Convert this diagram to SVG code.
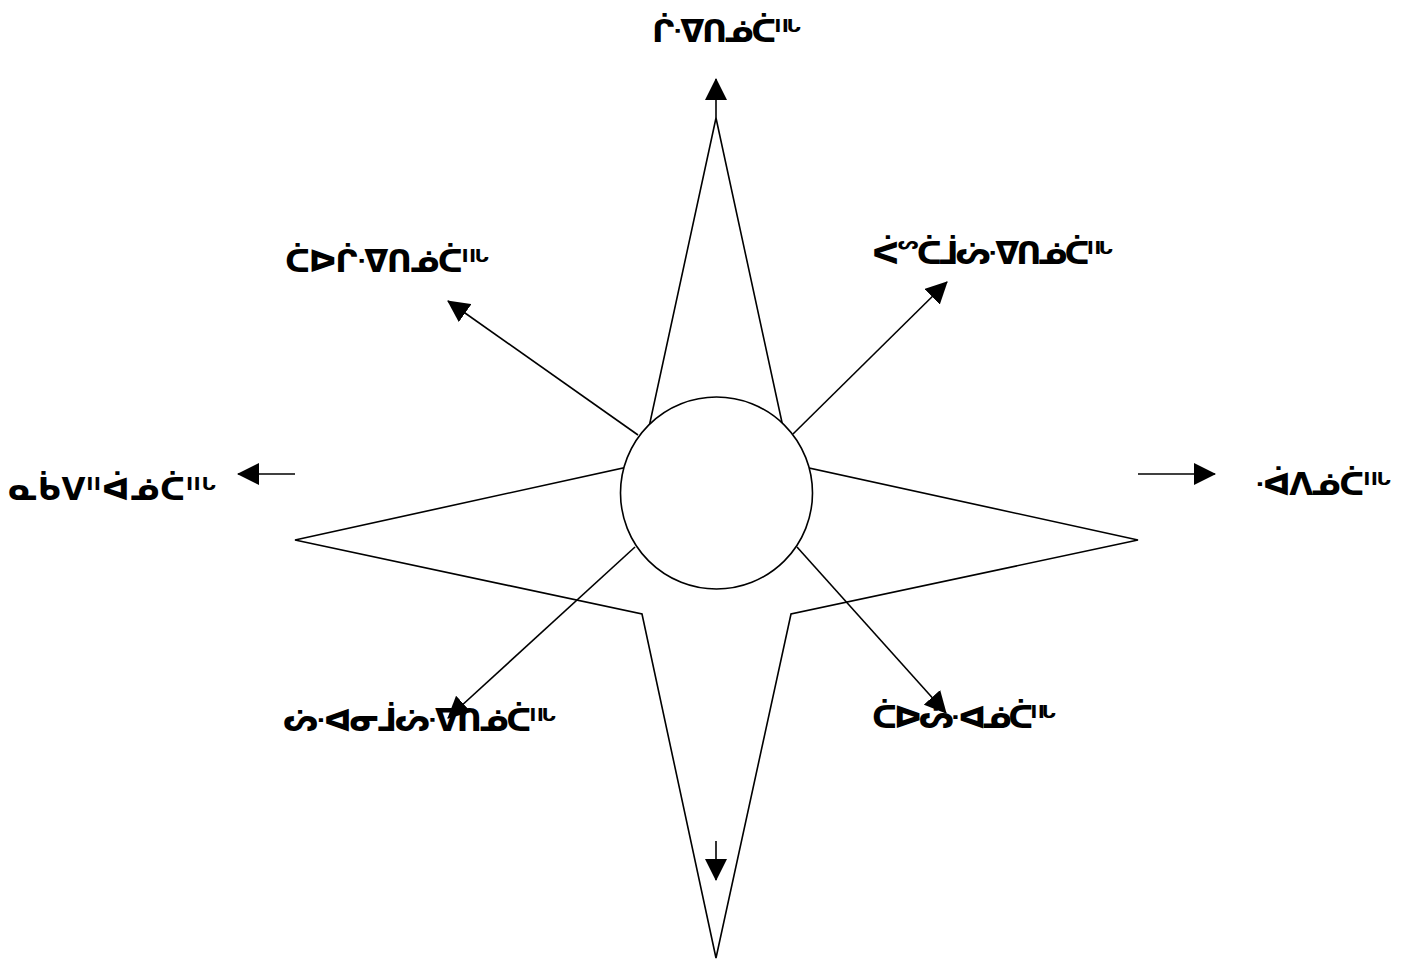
<svg xmlns="http://www.w3.org/2000/svg" width="1403" height="963" viewBox="0 0 1403 963">
<style>
.lbl{font-family:"DejaVu Sans","Noto Sans",sans-serif;font-weight:bold;font-size:31px;fill:#000}
.ln{stroke:#000;stroke-width:1.6;fill:none}
.ar{stroke:#000;stroke-width:1.6;fill:none;marker-end:url(#ah)}
</style>
<defs>
<marker id="ah" markerUnits="userSpaceOnUse" markerWidth="22" markerHeight="22" viewBox="0 0 22 22" refX="21" refY="11" orient="auto">
<path d="M0,0 L22,11 L0,22 Z" fill="#000"/>
</marker>
</defs>
<rect width="1403" height="963" fill="#fff"/>
<g id="star">
<polygon points="716,118 791,464 1138,540 791,614 716,958 642,614 295,540 641,464" fill="#fff" stroke="#000" stroke-width="1.6"/>
</g>
<g id="connectors">
<line class="ar" x1="716" y1="118" x2="716" y2="79"/>
<line class="ar" x1="638" y1="435" x2="448" y2="301"/>
<line class="ar" x1="793" y1="434" x2="947" y2="282"/>
<line class="ar" x1="295" y1="474" x2="238" y2="474"/>
<line class="ar" x1="1138" y1="474" x2="1215" y2="474"/>
<line class="ar" x1="635" y1="547" x2="448" y2="718"/>
<line class="ar" x1="797" y1="547" x2="946" y2="713"/>
<line class="ar" x1="716" y1="841" x2="716" y2="880"/>
</g>
<g id="center">
<circle cx="716.5" cy="493" r="96" fill="#fff" stroke="#000" stroke-width="1.6"/>
</g>
<g id="n-label"><text class="lbl" x="652" y="42" textLength="150">ᒌᐌᑎᓅᑖᐦᒡ</text></g>
<g id="nw-label"><text class="lbl" x="285" y="272" textLength="205">ᑖᐅᒌᐌᑎᓅᑖᐦᒡ</text></g>
<g id="ne-label"><text class="lbl" x="872" y="264" textLength="242">ᐹᔥᑖᒨᔖᐌᑎᓅᑖᐦᒡ</text></g>
<g id="w-label"><text class="lbl" x="8" y="500" textLength="209">ᓇᑳᐯᐦᐋᓅᑖᐦᒡ</text></g>
<g id="e-label"><text class="lbl" x="1255" y="495" textLength="137">ᐙᐱᓅᑖᐦᒡ</text></g>
<g id="sw-label"><text class="lbl" x="283" y="731" textLength="274">ᔖᐗᓂᒨᔖᐌᑎᓅᑖᐦᒡ</text></g>
<g id="se-label"><text class="lbl" x="872" y="728" textLength="185">ᑖᐅᔖᐗᓅᑖᐦᒡ</text></g>
</svg>
